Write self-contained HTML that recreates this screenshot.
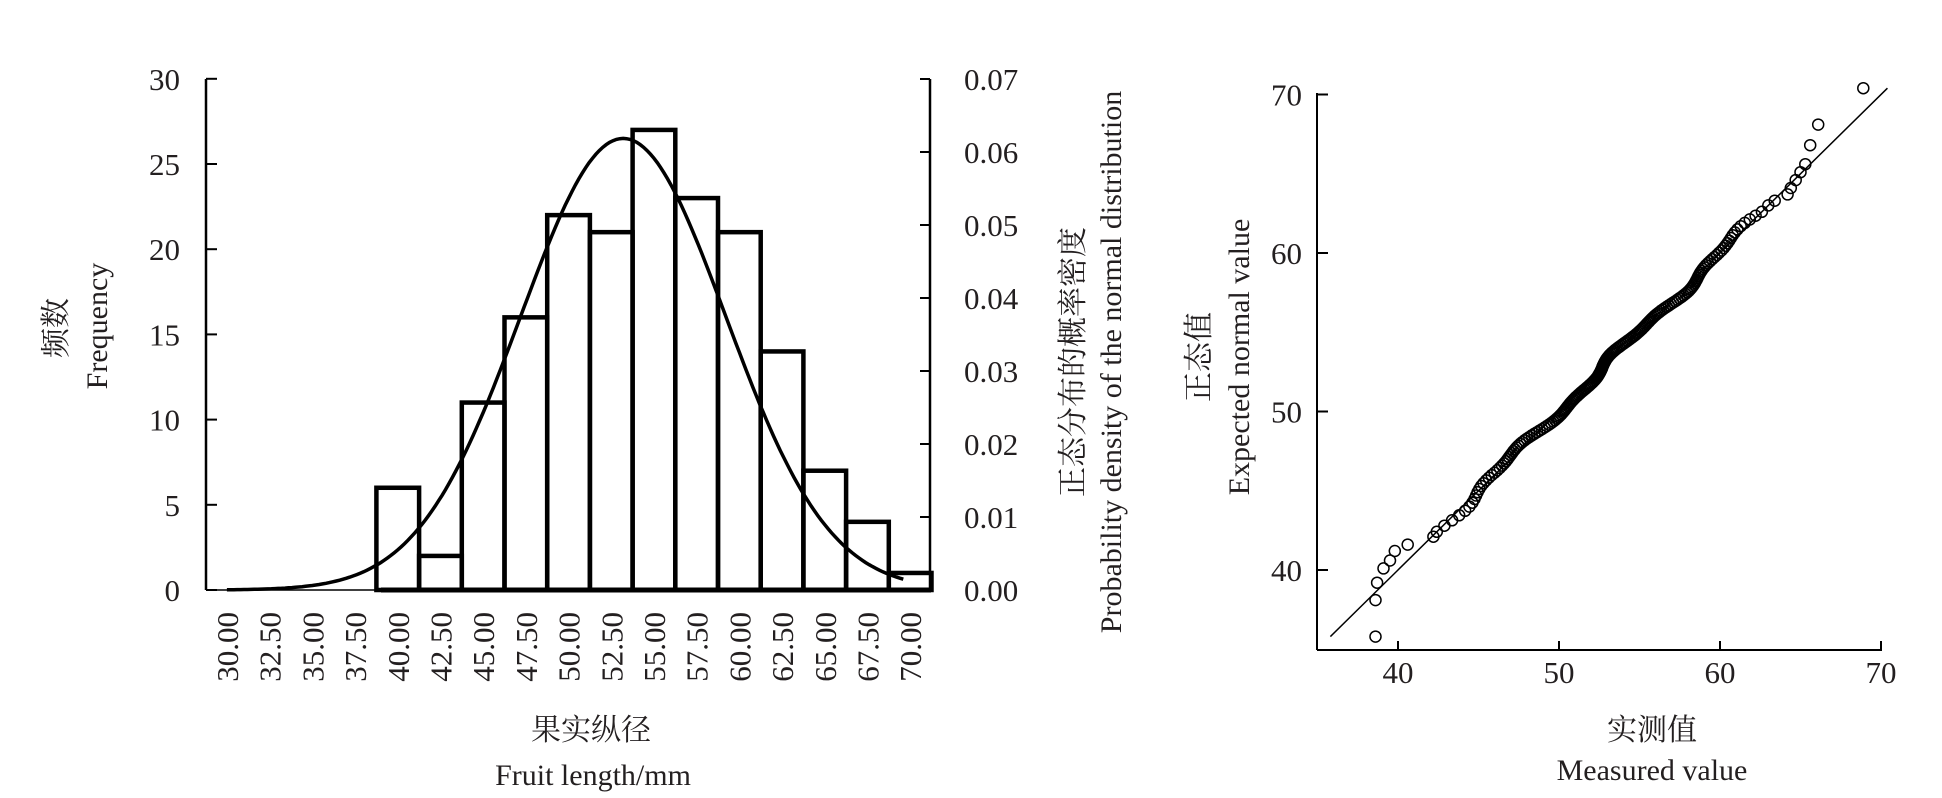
<!DOCTYPE html>
<html><head><meta charset="utf-8"><style>
html,body{margin:0;padding:0;background:#fff;}
svg{display:block;}
text{font-family:"Liberation Serif","Noto Serif CJK SC",serif;fill:#231f20;}
</style></head><body>
<svg id="s" width="1942" height="798" viewBox="0 0 1942 798" xmlns="http://www.w3.org/2000/svg">
<g id="hist" stroke="#000" fill="none"></g>
<g id="qq" stroke="#000" fill="none"></g>
<g font-size="31">
<text x="591" y="740" text-anchor="middle" font-size="30">果实纵径</text>
<text x="593" y="785" text-anchor="middle" font-size="30">Fruit length/mm</text>
<text transform="translate(66,328) rotate(-90)" text-anchor="middle" font-size="30">频数</text>
<text transform="translate(107,326) rotate(-90)" text-anchor="middle" font-size="30">Frequency</text>
<text transform="translate(1083,362) rotate(-90)" text-anchor="middle" font-size="30">正态分布的概率密度</text>
<text transform="translate(1121,362) rotate(-90)" text-anchor="middle" font-size="30">Probability density of the normal distribution</text>
<text transform="translate(1209,357) rotate(-90)" text-anchor="middle" font-size="30">正态值</text>
<text transform="translate(1249,357) rotate(-90)" text-anchor="middle" font-size="30">Expected normal value</text>
<text x="1652" y="740" text-anchor="middle" font-size="30">实测值</text>
<text x="1652" y="780" text-anchor="middle" font-size="30">Measured value</text>
</g>
</svg>
<script>
var NS="http://www.w3.org/2000/svg",S=document.getElementById('s');
function el(p,t,a,txt){var e=document.createElementNS(NS,t);for(var k in a)e.setAttribute(k,a[k]);if(txt!==undefined)e.textContent=txt;p.appendChild(e);return e;}
var H=document.getElementById('hist');
var y0=590,py=17.04;
el(H,'line',{x1:206,y1:79,x2:206,y2:590,'stroke-width':2.5});
el(H,'line',{x1:930,y1:79,x2:930,y2:590,'stroke-width':2.5});
el(H,'line',{x1:206,y1:590,x2:930,y2:590,'stroke-width':1.5});
for(var i=0;i<=6;i++){var y=590-i*85.2;el(H,'line',{x1:206,y1:y,x2:217,y2:y,'stroke-width':2});
el(S,'text',{x:180,y:y+11,'text-anchor':'end','font-size':31},String(i*5));}
for(var i=0;i<=7;i++){var y=590-i*73;el(H,'line',{x1:920,y1:y,x2:930,y2:y,'stroke-width':2});
el(S,'text',{x:964,y:y+11,'font-size':31},(i/100).toFixed(2));}
var w=42.7,L=205.6;
var f=[0,0,0,0,6,2,11,16,22,21,27,23,21,14,7,4,1];
for(var i=0;i<17;i++){var x=L+i*w;
 if(f[i]>0)el(H,'rect',{x:x,y:y0-f[i]*py,width:w,height:f[i]*py,'stroke-width':4.5});
 var cx=x+w/2;
 el(S,'text',{transform:'translate('+(cx+11)+',612) rotate(-90)','text-anchor':'end','font-size':31},(30+2.5*i).toFixed(2));}
el(H,'line',{x1:381,y1:590,x2:931,y2:590,'stroke-width':5});
var d='',mu=53.2,sd=6.0,pk=26.5;
for(var v=30;v<=69.8;v+=0.2){var x=L+w/2+(v-30)/2.5*w;var y=y0-pk*Math.exp(-0.5*Math.pow((v-mu)/sd,2))*py;d+=(d?'L':'M')+x.toFixed(1)+','+y.toFixed(1);}
el(H,'path',{d:d,'stroke-width':3.5});
// QQ
var Q=document.getElementById('qq');
function X(v){return 1398+(v-40)*16.1;}function Y(v){return 570-(v-40)*15.85;}
el(Q,'line',{x1:1317,y1:93,x2:1317,y2:650,'stroke-width':2});
el(Q,'line',{x1:1317,y1:650,x2:1882,y2:650,'stroke-width':2});
[40,50,60,70].forEach(function(v){el(Q,'line',{x1:1317,y1:Y(v),x2:1328,y2:Y(v),'stroke-width':2});
el(S,'text',{x:1302,y:Y(v)+11,'text-anchor':'end','font-size':31},String(v));
el(Q,'line',{x1:X(v),y1:641,x2:X(v),y2:650,'stroke-width':2});
el(S,'text',{x:X(v),y:683,'text-anchor':'middle','font-size':31},String(v));});
el(Q,'line',{x1:X(35.8),y1:Y(35.8),x2:X(70.4),y2:Y(70.4),'stroke-width':1.5});
function erf(x){var s=x<0?-1:1;x=Math.abs(x);var t=1/(1+0.3275911*x);var y=1-(((((1.061405429*t-1.453152027)*t)+1.421413741)*t-0.284496736)*t+0.254829592)*t*Math.exp(-x*x);return s*y;}
function Phi(z){return 0.5*(1+erf(z/Math.SQRT2));}
function inv(p){var a=-6,b=6;for(var k=0;k<50;k++){var m=(a+b)/2;if(Phi(m)<p)a=m;else b=m;}return (a+b)/2;}
var n=200,pts=[];
for(var i=1;i<=n;i++){var e=53.3+5.9*inv((i-0.5)/n);
 var m=e+0.3*Math.sin(e*0.9)+0.15*Math.sin(e*2.3+1);
 if(e<42.3||e>62.6)continue;
 pts.push([m,e]);}
pts=pts.concat([[38.6,35.8],[38.6,38.1],[38.7,39.2],[39.1,40.1],[39.5,40.6],[39.8,41.2],[40.6,41.6],[42.2,42.1],[63.0,63.0],[63.4,63.3],[64.2,63.7],[64.4,64.1],[64.7,64.6],[65.0,65.1],[65.3,65.6],[65.6,66.8],[66.1,68.1],[68.9,70.4]]);
pts.forEach(function(p){el(Q,'circle',{cx:X(p[0]).toFixed(1),cy:Y(p[1]).toFixed(1),r:5.5,'stroke-width':1.5});});
</script>
</body></html>
